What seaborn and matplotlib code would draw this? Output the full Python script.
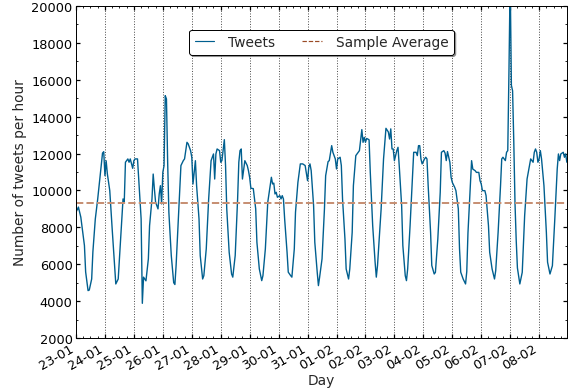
import numpy as np
import pandas as pd
import matplotlib
matplotlib.use("Agg")
import matplotlib.pyplot as plt
import matplotlib.dates as mdates
from matplotlib.lines import Line2D
import seaborn as sns

# Hourly tweet counts: hours elapsed since 23-01 00:00 and tweets in that hour
hours = [
    0, 2, 4, 7, 8, 10, 11, 13, 14, 16, 18, 20, 22, 23,
    24, 25, 26, 28, 30, 32, 33, 35, 37, 39, 40, 41, 43, 44, 45, 47,
    48, 49, 51, 52, 54, 55, 56, 57, 58, 60, 61, 63, 64, 65, 66, 67, 68, 69, 70, 71,
    72, 73, 74, 75, 76, 77, 79, 81, 82, 83, 85, 87, 89, 90, 92, 93, 95,
    96, 97, 99, 100, 102, 103, 105, 106, 108, 110, 112, 114, 115, 116, 117, 119,
    120, 121, 123, 124, 125, 127, 129, 130, 132, 134, 135, 136, 137, 138, 140, 142, 143,
    144, 145, 147, 149, 150, 152, 154, 155, 157, 159, 161, 162, 163, 164, 165, 166, 167,
    169, 170, 171, 172, 173, 175, 176, 178, 179, 181, 182, 184, 186, 188, 190,
    192, 193, 194, 195, 197, 198, 200, 201, 202, 204, 206, 207, 209, 210, 212, 213, 215,
    216, 217, 219, 220, 221, 223, 224, 226, 227, 229, 230, 232, 234, 235, 237, 238, 239,
    240, 241, 243, 244, 246, 248, 249, 250, 253, 255, 257, 259, 260, 261, 262, 263,
    264, 266, 267, 268, 270, 271, 273, 274, 275, 277, 279, 280, 282, 283, 284, 285, 286, 287,
    289, 290, 291, 292, 294, 295, 297, 298, 300, 302, 303, 305, 306, 307, 308, 310, 311,
    312, 314, 315, 317, 318, 319, 321, 323, 324, 325, 327, 328, 329, 331, 332, 334, 335,
    336, 337, 339, 340, 342, 343, 345, 347, 348, 350, 352, 353, 354, 356, 357, 358, 359,
    360, 361, 362, 363, 364, 365, 366, 368, 370, 372, 374, 376, 377, 379, 380, 381, 382, 383,
    384, 385, 386, 388, 390, 391, 393, 395, 397, 399, 400, 401, 402, 404, 405, 406, 407,
]
tweets = [
    8820, 9100, 8550, 7010, 5580, 4570, 4600, 5200, 6670, 8450, 9540, 10800, 12030, 12100,
    10800, 11610, 10900, 9990, 7910, 5930, 4930, 5200, 7370, 9540, 9350, 11530, 11710, 11530, 11710, 11200,
    11620, 11710, 11710, 10620, 8455, 3880, 5300, 5200, 5100, 6290, 8090, 9540, 10890, 10080, 9360, 9180, 9000, 9810, 10260, 9270,
    10990, 11340, 15140, 14960, 11530, 8820, 6470, 5000, 4900, 5930, 8635, 11350, 11620, 11710, 12610, 12530, 12160,
    11800, 10350, 11615, 10260, 8455, 6470, 5200, 5380, 6830, 9540, 11615, 11980, 10620, 11980, 12250, 12160,
    11530, 11620, 12755, 11350, 9000, 6650, 5470, 5300, 6470, 9540, 11530, 12160, 12250, 10620, 11615, 11350, 11070,
    10700, 10120, 10100, 9000, 7190, 5745, 5110, 5380, 6830, 9360, 10260, 10715, 10350, 10400, 9810, 9900, 9630,
    9720, 9540, 9720, 9540, 8455, 6650, 5570, 5380, 5300, 6830, 8820, 10440, 11440, 11440, 11350,
    10530, 11260, 11440, 11080, 9180, 7190, 5570, 4840, 5300, 6290, 9000, 10800, 11560, 11620, 12430, 12070, 11710,
    11165, 11710, 11800, 11350, 9540, 7370, 5745, 5200, 5745, 7730, 10260, 11890, 12070, 12160, 13300, 12610, 12880,
    12610, 12820, 12750, 10990, 8090, 6110, 5300, 5930, 9000, 11710, 13370, 13170, 12790, 13340, 12250, 12250,
    11615, 12160, 12340, 11350, 9180, 7010, 5380, 5110, 5745, 8090, 10800, 12070, 12070, 11890, 12430, 12430, 11710, 11440,
    11710, 11800, 11710, 10260, 7730, 5930, 5470, 5560, 7370, 9900, 12070, 12160, 12030, 11620, 12110, 11530, 10715,
    10440, 10170, 9990, 9000, 6830, 5570, 5200, 4930, 5600, 7700, 10260, 11615, 11160, 11070, 10980, 10980, 10530,
    10350, 9990, 9990, 9720, 8090, 6650, 5745, 5200, 5650, 7730, 10260, 11710, 11800, 11620, 12070, 12160, 16500,
    21500, 15700, 15400, 12600, 9300, 7300, 5800, 4930, 5560, 8635, 10620, 11350, 11710, 11530, 12070, 12250, 12070, 11530,
    11710, 12160, 11710, 10260, 7730, 6110, 5470, 5920, 8455, 11165, 11980, 11620, 11980, 12070, 11800, 11980, 11530,
]
sample_average = 9330

start = pd.Timestamp("2017-01-23 00:00")
df = pd.DataFrame({
    "time": start + pd.to_timedelta(hours, unit="h"),
    "tweets": tweets,
})

sns.set_theme(style="ticks", rc={
    "xtick.direction": "in",
    "ytick.direction": "in",
    "xtick.top": True,
    "ytick.right": True,
    "xtick.major.size": 4,
    "ytick.major.size": 4,
    "xtick.minor.size": 2,
    "ytick.minor.size": 2,
    "xtick.minor.visible": True,
    "ytick.minor.visible": True,
    "axes.edgecolor": "black",
    "axes.linewidth": 1.0,
})
plt.rcParams["font.family"] = ["DejaVu Sans"]
FS = 14
TICK_FS = 13

fig = plt.figure(figsize=(8, 5.507), dpi=71)
ax = fig.add_axes([0.1338, 0.133, 0.8642, 0.849])

line_color = "#005f8f"
avg_color = "#c78f72"

sns.lineplot(data=df, x="time", y="tweets", ax=ax, color=line_color,
             linewidth=1.4, legend=False)
ax.axhline(sample_average, color=avg_color, linestyle="--", linewidth=2)

ax.set_xlim(df["time"].iloc[0], df["time"].iloc[-1])
ax.set_ylim(2000, 20000)
ax.set_yticks(np.arange(2000, 20001, 2000))
ax.yaxis.set_minor_locator(matplotlib.ticker.MultipleLocator(1000))

ax.xaxis.set_major_locator(mdates.DayLocator())
ax.xaxis.set_major_formatter(mdates.DateFormatter("%d-%m"))
ax.xaxis.set_minor_locator(mdates.HourLocator(byhour=[6, 12, 18]))
ax.grid(axis="x", which="major", color="0.3", linestyle=":", linewidth=1)

ax.tick_params(axis="both", which="major", labelsize=TICK_FS, colors="black")
plt.setp(ax.get_xticklabels(), rotation=30, ha="right")

ax.set_xlabel("Day", fontsize=FS, labelpad=2)
ax.set_ylabel("Number of tweets per hour", fontsize=FS)

handles = [
    Line2D([], [], color=line_color, linewidth=1.2),
    Line2D([], [], color="#9a4a25", linestyle="--", linewidth=1.2),
]
leg = ax.legend(handles, ["Tweets", "Sample Average"], loc="upper center",
                bbox_to_anchor=(0.5, 0.95), ncol=2, fancybox=True, shadow=True,
                frameon=True, framealpha=1, edgecolor="black", fontsize=FS,
                handlelength=1.4, handletextpad=1.0)
leg.get_frame().set_linewidth(1.0)

fig.savefig("out.png", dpi=71)
